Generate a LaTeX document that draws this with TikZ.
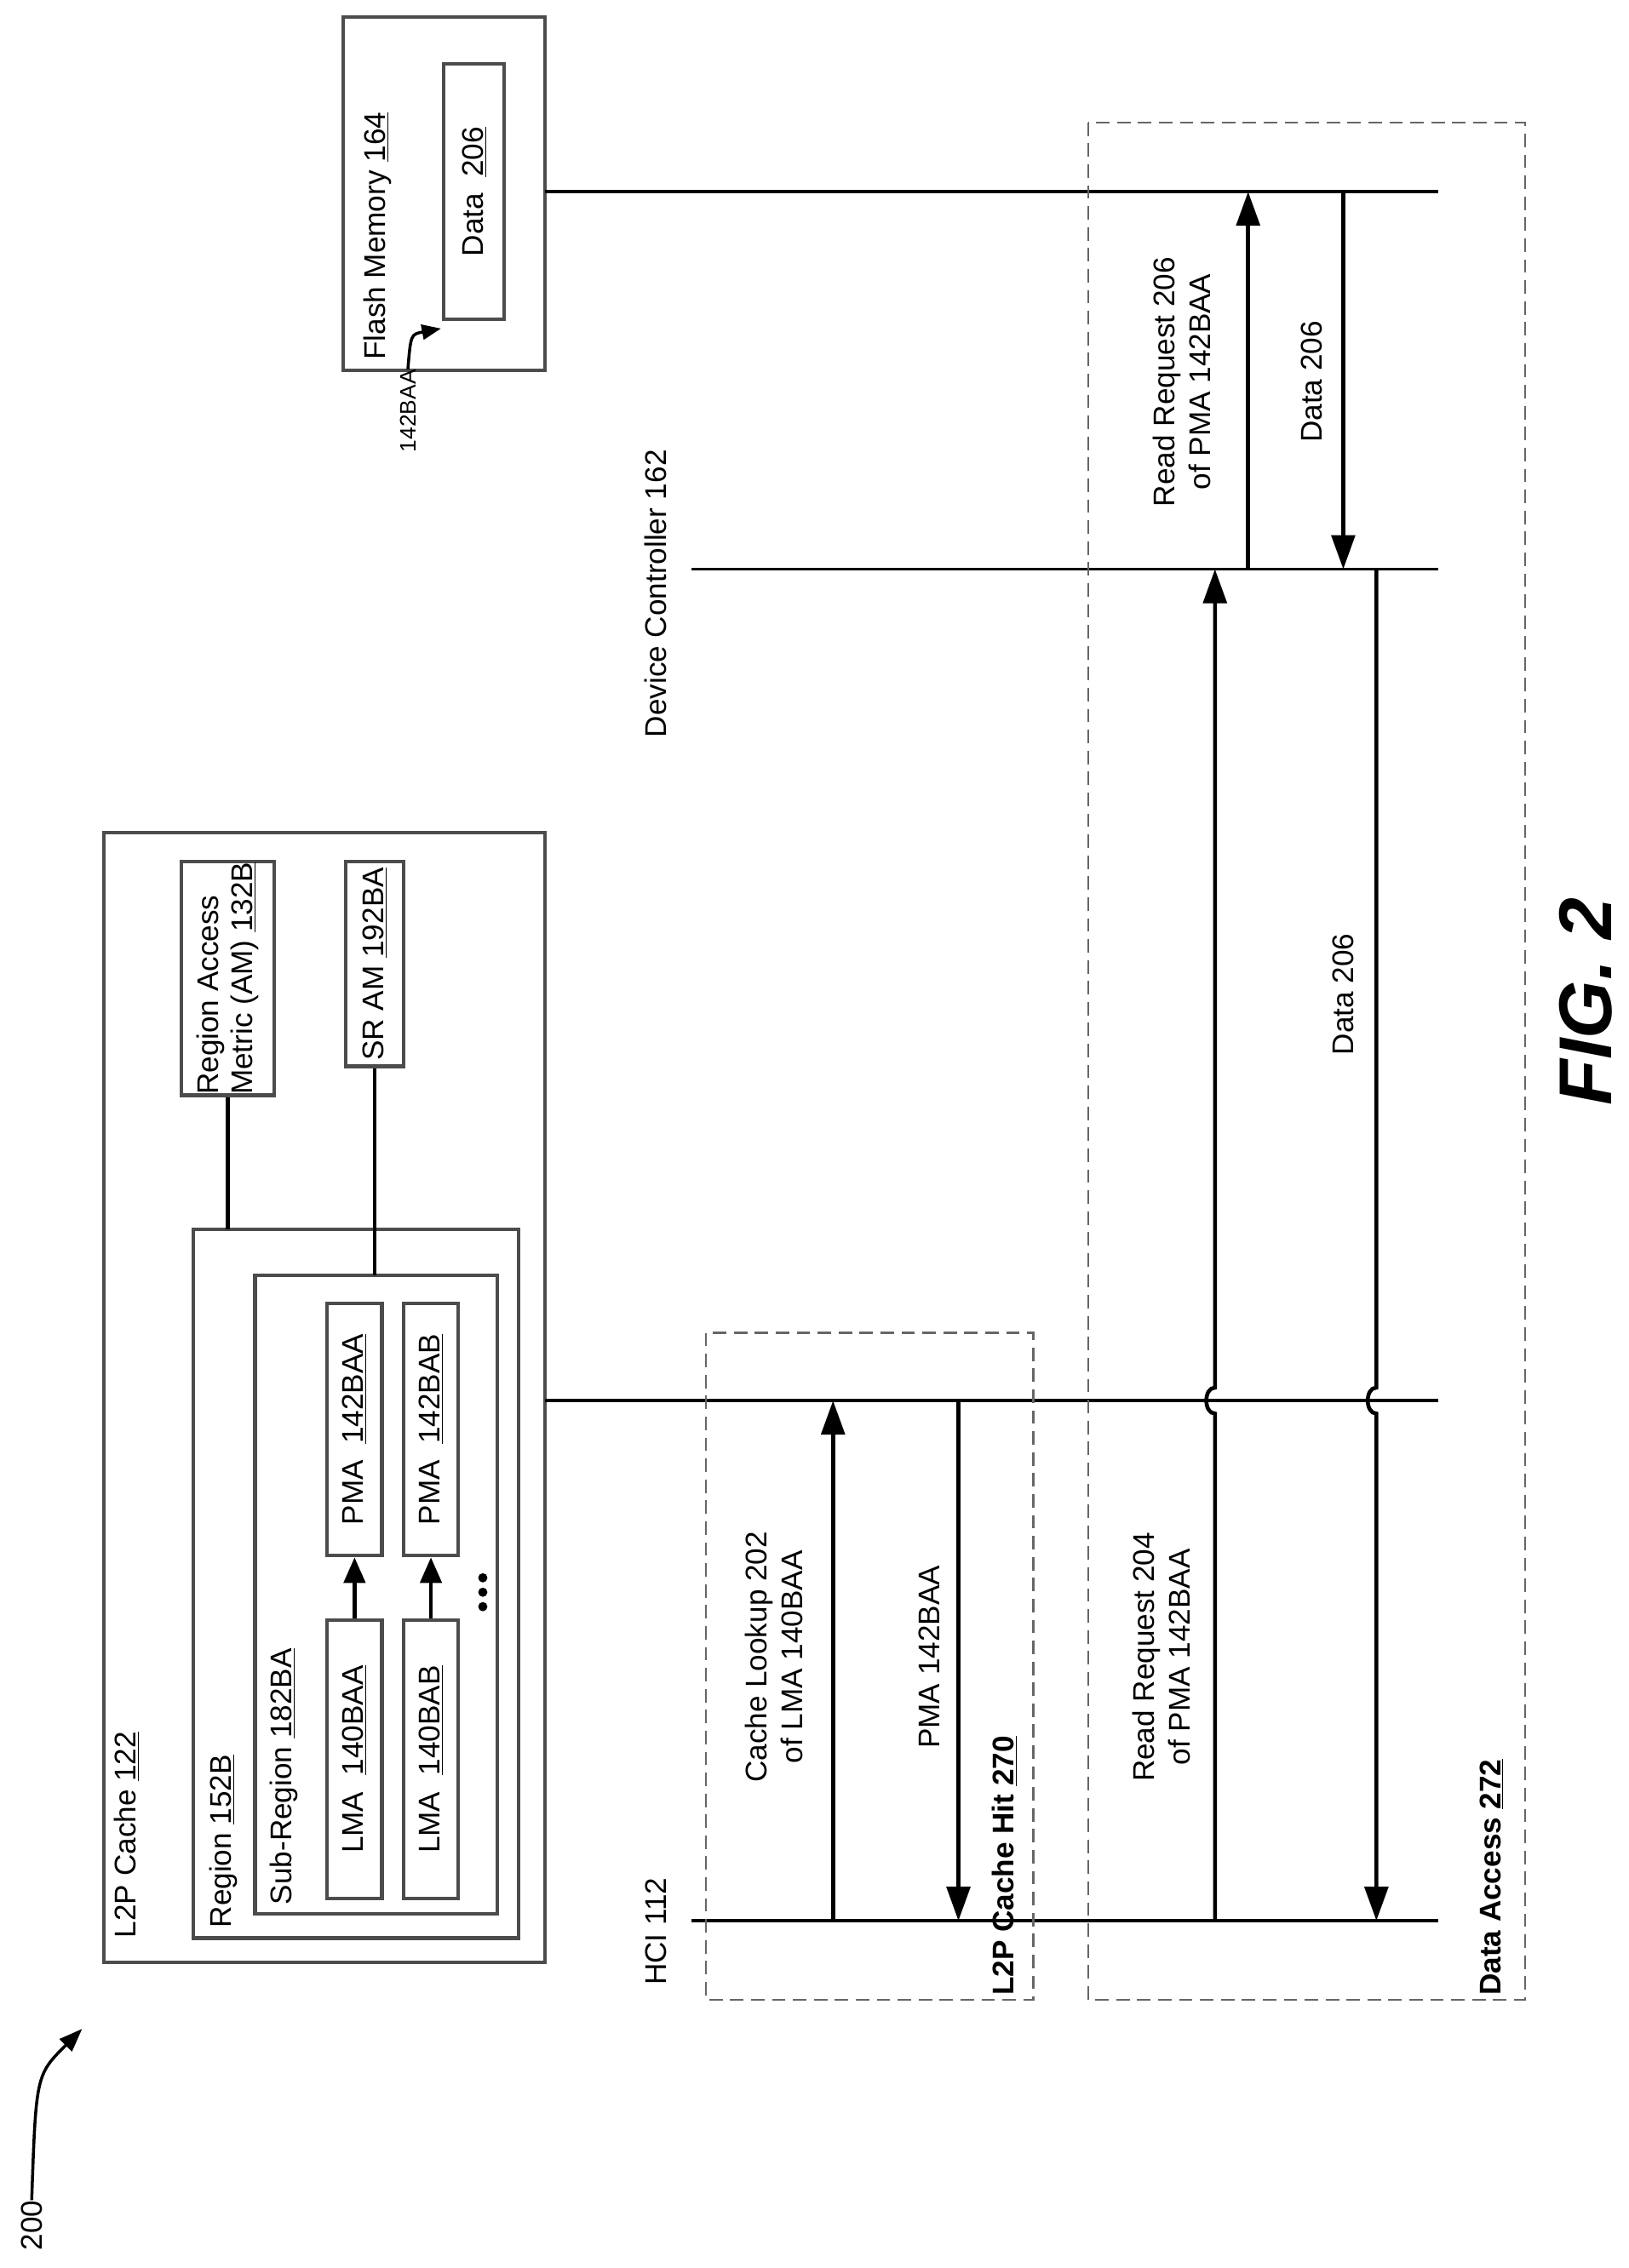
\documentclass[tikz,border=0pt]{standalone}
\usepackage{fontspec}
\setmainfont{Liberation Sans}
\usetikzlibrary{arrows.meta}
\tikzset{
  box/.style={draw=black!70,line width=2.4pt},
  tbox/.style={box,rotate=90,inner sep=0pt,font=\fontsize{20}{23}\selectfont},
  grp/.style={draw=black!60,line width=1.3pt,dash pattern=on 9pt off 5pt},
  life/.style={line width=2pt},
  msg/.style={line width=2.6pt,-{Triangle[length=0.8cm,width=0.55cm]}},
  lbl/.style={rotate=90,inner sep=0pt,font=\fontsize{20}{24}\selectfont},
}
\begin{document}
\begin{tikzpicture}[x=0.03386cm,y=-0.03386cm]
	\useasboundingbox (0,0) rectangle (1130,1574);
	% L2P cache block
	\draw[box] (72,578) rectangle (378,1362);
	\node(l2plbl) at (88,1345) [lbl,anchor=west] {L2P Cache \underline{122}};
	\draw[box] (134,853) rectangle (360,1345);
	\node(reglbl) at (155,1338) [lbl,anchor=west] {Region \underline{152B}};
	\draw[box] (177,885) rectangle (345,1328);
	\node(sublbl) at (197,1322) [lbl,anchor=west] {Sub-Region \underline{182BA}};
	\node(ram) at (158,679) [tbox,minimum width=5.49cm,minimum height=2.17cm,align=left] {Region Access\\Metric (AM) \underline{132B}};
	\node(sram) at (260,669) [tbox,minimum width=4.81cm,minimum height=1.35cm] {SR AM \underline{192BA}};
	\coordinate (regtop) at (158,853);
	\coordinate (subtop) at (260,885);
	\draw[line width=2.4pt] (ram.west) -- (regtop);
	\draw[line width=2.4pt] (sram.west) -- (subtop);
	\node(lma1) at (246,1221) [tbox,minimum width=6.53cm,minimum height=1.29cm] {LMA\ \ \underline{140BAA}};
	\node(pma1) at (246,992) [tbox,minimum width=5.93cm,minimum height=1.29cm] {PMA\ \ \underline{142BAA}};
	\node(lma2) at (299,1221) [tbox,minimum width=6.53cm,minimum height=1.29cm] {LMA\ \ \underline{140BAB}};
	\node(pma2) at (299,992) [tbox,minimum width=5.93cm,minimum height=1.29cm] {PMA\ \ \underline{142BAB}};
	\draw[line width=2.6pt,-{Triangle[length=0.6cm,width=0.5cm]}] (lma1.east) -- (pma1.west);
	\draw[line width=2.6pt,-{Triangle[length=0.6cm,width=0.5cm]}] (lma2.east) -- (pma2.west);
	\foreach \d in {1095,1105,1115} \fill (335,\d) circle (3.2);
	% flash memory block
	\draw[box] (238,12) rectangle (378,257);
	\node(flashlbl) at (262,250) [lbl,anchor=west] {Flash Memory \underline{164}};
	\node(data) at (329,133) [tbox,minimum width=6.0cm,minimum height=1.42cm] {Data\ \ \underline{206}};
	\node(addr) at (283,314) [lbl,anchor=west,font=\fontsize{15}{18}\selectfont] {142BAA};
	\draw[line width=2pt,-{Triangle[length=0.45cm,width=0.35cm]}] (addr.east) .. controls (285,232) .. (306,228);
	% lifelines
	\draw[life] (480,1333) -- (998,1333);
	\draw[life] (378,972) -- (998,972);
	\draw[life] (480,395) -- (998,395);
	\draw[life] (378,133) -- (998,133);
	\node(hcilbl) at (455,1378) [lbl,anchor=west] {HCI 112};
	\node(dclbl) at (455,512) [lbl,anchor=west] {Device Controller 162};
	% groups
	\draw[grp] (490,925) rectangle (717,1388);
	\node(hitlbl) at (697,1385) [lbl,anchor=west,font=\fontsize{20}{24}\selectfont\bfseries] {L2P Cache Hit \underline{270}};
	\draw[grp] (755,85) rectangle (1058,1388);
	\node(acclbl) at (1035,1385) [lbl,anchor=west,font=\fontsize{20}{24}\selectfont\bfseries] {Data Access \underline{272}};
	% messages
	\coordinate (m1a) at (578,1333); \coordinate (m1b) at (578,972);
	\coordinate (m2a) at (665,972); \coordinate (m2b) at (665,1333);
	\coordinate (m3a) at (843,1333); \coordinate (m3b) at (843,395);
	\coordinate (m4a) at (866,395); \coordinate (m4b) at (866,133);
	\coordinate (m5a) at (932,133); \coordinate (m5b) at (932,395);
	\coordinate (m6a) at (955,395); \coordinate (m6b) at (955,1333);
	\draw[msg] (m1a) -- (m1b);
	\draw[msg] (m2a) -- (m2b);
	\draw[msg] (m3a) -- (843,981) .. controls (835,981) and (835,963) .. (843,963) -- (m3b);
	\draw[msg] (m4a) -- (m4b);
	\draw[msg] (m5a) -- (m5b);
	\draw[msg] (m6a) -- (955,963) .. controls (947,963) and (947,981) .. (955,981) -- (m6b);
	\node(m1lbl) at (537,1150) [lbl,align=center] {Cache Lookup 202\\of LMA 140BAA};
	\node(m2lbl) at (645,1150) [lbl] {PMA 142BAA};
	\node(m3lbl) at (806,1150) [lbl,align=center] {Read Request 204\\of PMA 142BAA};
	\node(m4lbl) at (820,265) [lbl,align=center] {Read Request 206\\of PMA 142BAA};
	\node(m5lbl) at (910,265) [lbl] {Data 206};
	\node(m6lbl) at (932,690) [lbl] {Data 206};
	% figure number
	\node(fig) at (1100,695) [lbl,font=\fontsize{50}{56}\selectfont\bfseries\itshape] {FIG. 2};
	\node(num) at (22,1562) [lbl,anchor=west] {200};
	\draw[line width=2pt,-{Triangle[length=0.55cm,width=0.4cm]}] (num.east) .. controls (25,1440) .. (57,1408);
\end{tikzpicture}
\end{document}
